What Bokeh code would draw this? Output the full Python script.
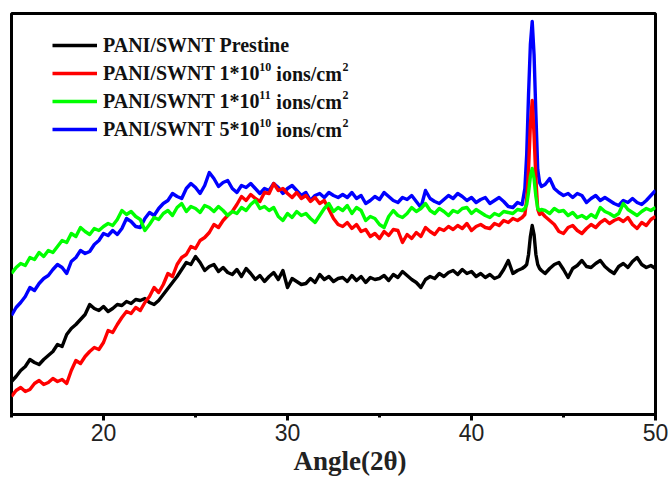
import numpy as np
from bokeh.plotting import figure
from bokeh.models import Range1d, SingleIntervalTicker, Legend, LegendItem, Label, Title
from bokeh.embed import file_html
from bokeh.resources import INLINE

# 2-theta grid: 0.25 deg steps, finer around the 43.3 deg reflection
ANGLE = np.round(np.concatenate([
    np.arange(15.0, 42.76, 0.25),
    np.arange(42.9, 43.81, 0.1),
    np.arange(44.0, 50.01, 0.25),
]), 2)

PRESTINE = [
    33, 38, 44, 48, 55, 52, 50, 55,
    59, 63, 70, 68, 80, 86, 90, 95,
    100, 110, 106, 104, 108, 103, 106, 110,
    109, 113, 111, 115, 114, 116, 112, 110,
    114, 120, 126, 132, 138, 145, 152, 150,
    158, 152, 144, 148, 150, 143, 147, 142,
    140, 145, 138, 146, 141, 135, 139, 133,
    138, 142, 135, 144, 127, 136, 133, 130,
    131, 136, 132, 140, 135, 138, 133, 136,
    137, 133, 139, 134, 138, 132, 137, 135,
    136, 139, 134, 140, 137, 143, 139, 135,
    132, 127, 135, 138, 136, 141, 138, 142,
    144, 140, 145, 141, 143, 138, 141, 137,
    140, 136, 138, 145, 154, 141, 144, 146,
    148, 150, 160, 178, 189, 180, 160, 150, 146, 144,
    141, 146, 150, 152, 145, 137, 146, 149, 154, 148,
    147, 151, 154, 148, 144, 141, 148, 151, 147, 153,
    157, 150, 147, 149, 146,
]

DOSE_1E10 = [
    18, 24, 27, 23, 25, 31, 34, 30,
    32, 36, 33, 35, 31, 44, 54, 51,
    58, 63, 67, 65, 72, 84, 82, 90,
    97, 103, 101, 107, 104, 112, 118, 127,
    122, 130, 141, 138, 150, 157, 160, 168,
    166, 174, 177, 182, 190, 187, 194, 199,
    203, 210, 218, 214, 220, 216, 213, 222,
    221, 231, 224, 226, 221, 217, 222, 216,
    219, 213, 217, 211, 214, 205, 196, 190,
    188, 192, 186, 190, 183, 185, 178, 181,
    176, 183, 179, 185, 184, 172, 180, 176,
    182, 178, 187, 183, 180, 186, 184, 188,
    185, 189, 186, 191, 184, 188, 190, 187,
    186, 191, 189, 194, 192, 196, 194, 197,
    200, 215, 245, 290, 314, 280, 235, 205, 200, 202,
    198, 194, 190, 183, 181, 187, 189, 184, 181, 186,
    190, 187, 192, 195, 191, 194, 196, 193, 197, 190,
    186, 192, 189, 195, 198,
]

DOSE_1E11 = [
    141, 147, 151, 149, 157, 155, 162, 158,
    164, 162, 168, 174, 172, 181, 178, 187,
    183, 180, 186, 184, 188, 191, 189, 195,
    204, 200, 203, 198, 195, 184, 190, 197,
    195, 201, 204, 199, 207, 211, 203, 208,
    206, 202, 209, 207, 203, 208, 204, 199,
    203, 201, 207, 204, 210, 214, 206, 208,
    204, 207, 198, 194, 201, 197, 203, 199,
    201, 196, 192, 199, 206, 211, 203, 207,
    204, 209, 201, 207, 204, 194, 198, 196,
    190, 187, 198, 204, 199, 197, 201, 207,
    203, 206, 211, 204, 201, 206, 203, 199,
    204, 202, 206, 207, 201, 205, 202, 199,
    197, 201, 199, 203, 202, 201, 205, 204,
    206, 210, 222, 238, 246, 236, 218, 206, 204, 205,
    204, 201, 206, 203, 204, 199, 202, 197, 199, 196,
    200, 197, 207, 203, 201, 198, 201, 211, 205, 202,
    199, 203, 206, 204, 207,
]

DOSE_5E10 = [
    99, 107, 112, 118, 127, 124, 131, 136,
    139, 145, 150, 147, 141, 153, 157, 164,
    161, 163, 170, 174, 181, 179, 184, 180,
    186, 196, 193, 188, 187, 196, 202, 199,
    206, 211, 214, 221, 218, 216, 226, 231,
    227, 221, 229, 242, 236, 228, 232, 234,
    226, 222, 229, 227, 231, 226, 221, 226,
    224, 231, 227, 221, 226, 229, 224, 219,
    222, 214, 219, 221, 217, 222, 219, 217,
    220, 217, 222, 216, 219, 211, 214, 218,
    215, 222, 218, 214, 212, 217, 215, 219,
    213, 207, 224, 216, 213, 211, 215, 219,
    216, 221, 218, 214, 217, 212, 215, 217,
    211, 214, 217, 213, 208, 207, 212, 210,
    226, 260, 320, 370, 393, 360, 300, 245, 232, 228,
    230, 236, 226, 222, 219, 221, 217, 221, 219, 212,
    216, 219, 214, 217, 214, 211, 209, 214, 212, 216,
    212, 210, 214, 219, 224,
]

# legend texts: base part, dose exponent, unit, unit exponent
LABEL_BASE = ["PANI/SWNT Prestine", "PANI/SWNT 1*10", "PANI/SWNT 1*10", "PANI/SWNT 5*10"]
LABEL_EXP = ["", "10", "11", "10"]
LABEL_UNIT = ["", "ions/cm", "ions/cm", "ions/cm"]
LABEL_UNIT_EXP = ["", "2", "2", "2"]
COLORS = ["#000000", "#ff0000", "#00ff00", "#0000ff"]
X_LABEL = "Angle(2\u03b8)"

for s in (PRESTINE, DOSE_1E10, DOSE_1E11, DOSE_5E10):
    assert len(s) == len(ANGLE), (len(s), len(ANGLE))

p = figure(width=668, height=482, x_range=Range1d(15, 50), y_range=Range1d(0, 401),
           output_backend="svg", toolbar_location=None, y_axis_location=None,
           min_border_left=11, min_border_right=13, min_border_top=13, min_border_bottom=68)
p.outline_line_color = "black"
p.outline_line_width = 3
p.xgrid.visible = False
p.ygrid.visible = False
p.background_fill_color = "white"
p.border_fill_color = "white"

ax = p.xaxis[0]
ax.ticker = SingleIntervalTicker(interval=10, num_minor_ticks=2)
ax.axis_line_width = 3
ax.major_tick_out = 6
ax.major_tick_in = 0
ax.major_tick_line_width = 3
ax.minor_tick_out = 3
ax.minor_tick_in = 0
ax.minor_tick_line_width = 3
ax.major_label_text_font = "Liberation Sans"
ax.major_label_text_font_size = "23px"
ax.major_label_text_color = "#222222"
ax.major_label_standoff = 3

# axis title, placed slightly right of centre as in the original
p.add_layout(Title(text=X_LABEL, align="left", offset=282, standoff=0,
                   text_font="Liberation Serif", text_font_style="bold", text_font_size="27px",
                   text_color="#222222"), "below")

series = [PRESTINE, DOSE_1E10, DOSE_1E11, DOSE_5E10]
renderers = {}
for idx in [0, 3, 1, 2]:
    renderers[idx] = p.line(ANGLE, series[idx], line_color=COLORS[idx], line_width=3.4,
                            line_join="round")

LEG_X, LEG_Y, ROW_H, GLYPH_W, STANDOFF = 41, 271, 28, 45, 6
legend = Legend(items=[LegendItem(label=LABEL_BASE[i], renderers=[renderers[i]]) for i in range(4)],
                location=(LEG_X, LEG_Y))
legend.border_line_alpha = 0
legend.background_fill_alpha = 0
legend.padding = 0
legend.margin = 0
legend.spacing = 0
legend.glyph_width = GLYPH_W
legend.glyph_height = ROW_H
legend.label_height = ROW_H
legend.label_standoff = STANDOFF
legend.label_text_font = "Liberation Serif"
legend.label_text_font_style = "bold"
legend.label_text_font_size = "20px"
legend.label_text_color = "#111111"
p.add_layout(legend)

# Times/Liberation Serif Bold advance widths (per 1000 em)
ADV = {"P": 611, "A": 722, "N": 722, "I": 389, "/": 278, "S": 556, "W": 1000, "T": 667,
       " ": 250, "*": 500, "i": 278, "o": 500, "n": 556, "s": 389, "c": 444, "m": 833}
def text_w(t, size):
    return sum(ADV.get(ch, 500) for ch in t) * size / 1000.0

MAIN, SUP = 20, 12
x_text = LEG_X + GLYPH_W + STANDOFF
for i in range(1, 4):
    yc = LEG_Y + ROW_H * (4 - i) - ROW_H / 2
    x1 = x_text + text_w(LABEL_BASE[i], MAIN) - 2.5
    p.add_layout(Label(x=x1, y=yc + 7, x_units="screen", y_units="screen", text=LABEL_EXP[i],
                       text_font="Liberation Serif", text_font_style="bold",
                       text_font_size=f"{SUP}px", text_baseline="middle", text_color="#111111"))
    x2 = x1 + text_w(LABEL_EXP[i], SUP) + text_w(" ", MAIN)
    p.add_layout(Label(x=x2, y=yc, x_units="screen", y_units="screen", text=LABEL_UNIT[i],
                       text_font="Liberation Serif", text_font_style="bold",
                       text_font_size=f"{MAIN}px", text_baseline="middle", text_color="#111111"))
    x3 = x2 + text_w(LABEL_UNIT[i], MAIN) + 0.5
    p.add_layout(Label(x=x3, y=yc + 7, x_units="screen", y_units="screen", text=LABEL_UNIT_EXP[i],
                       text_font="Liberation Serif", text_font_style="bold",
                       text_font_size=f"{SUP}px", text_baseline="middle", text_color="#111111"))

open("out.html", "w").write(file_html(p, INLINE))
